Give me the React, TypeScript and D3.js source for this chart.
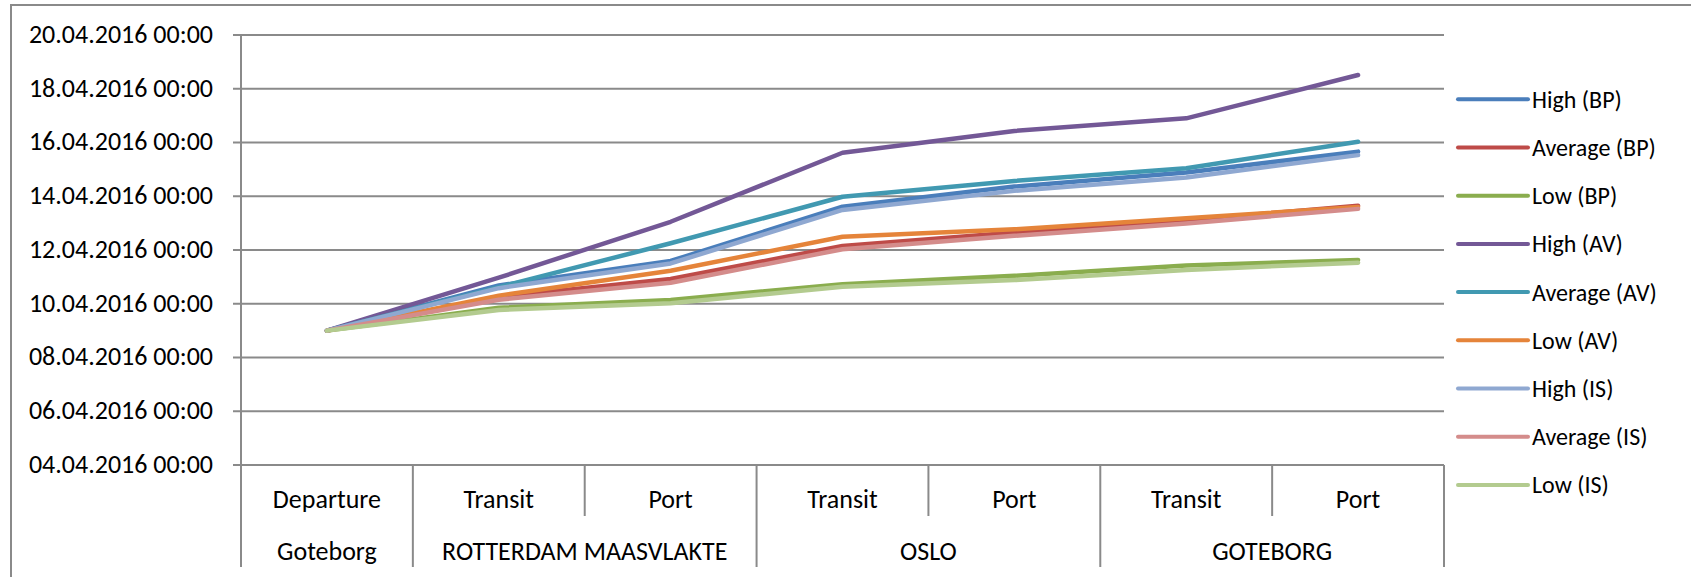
import React from "react";
import * as d3 from "d3";

// Voyage stages along the category axis (two levels)
const stages = ["Departure", "Transit", "Port", "Transit", "Port", "Transit", "Port"];
const portNames = ["Goteborg", "ROTTERDAM MAASVLAKTE", "OSLO", "GOTEBORG"];
const portSpans = [1, 2, 2, 2];

// Y-axis ticks: day of April 2016
const tickDays = [4, 6, 8, 10, 12, 14, 16, 18, 20];

// Arrival times, as fractional day of April 2016
const highBP = [9.0, 10.68, 11.59, 13.61, 14.36, 14.88, 15.66];
const averageBP = [9.0, 10.25, 10.92, 12.15, 12.65, 13.1, 13.65];
const lowBP = [9.0, 9.85, 10.14, 10.73, 11.04, 11.42, 11.63];
const highAV = [9.0, 10.97, 13.05, 15.62, 16.43, 16.9, 18.51];
const averageAV = [9.0, 10.62, 12.25, 13.98, 14.57, 15.04, 16.03];
const lowAV = [9.0, 10.3, 11.23, 12.49, 12.77, 13.18, 13.6];
const highIS = [9.0, 10.58, 11.5, 13.49, 14.2, 14.7, 15.53];
const averageIS = [9.0, 10.15, 10.78, 12.03, 12.53, 12.99, 13.53];
const lowIS = [9.0, 9.77, 10.02, 10.63, 10.88, 11.26, 11.53];

const seriesNames = [
  "High (BP)", "Average (BP)", "Low (BP)",
  "High (AV)", "Average (AV)", "Low (AV)",
  "High (IS)", "Average (IS)", "Low (IS)",
];
const seriesValues = [highBP, averageBP, lowBP, highAV, averageAV, lowAV, highIS, averageIS, lowIS];
const seriesColors = [
  "#4a7ebb", "#be4b48", "#8aad4e",
  "#735896", "#4199b1", "#e5843a",
  "#8fa8d1", "#d48c8b", "#b3cb8f",
];

const W = 1691;
const H = 577;
const plotLeft = 241;
const plotRight = 1444;
const plotTop = 35;
const plotBottom = 465;
const stageRowBottom = 516;
const axisBottom = 567;
const gridColor = "#8a8a8a";
const font = "Carlito, Calibri, 'Liberation Sans', Arial, sans-serif";
const fontSize = 26;
const legendFontSize = 24;

const aprilDay = (d: number) => new Date(new Date(2016, 3, 1).getTime() + (d - 1) * 864e5);

export default function App() {
  const y = d3
    .scaleTime()
    .domain([aprilDay(tickDays[0]), aprilDay(tickDays[tickDays.length - 1])])
    .range([plotBottom, plotTop]);
  const x = d3
    .scaleBand<number>()
    .domain(d3.range(stages.length))
    .range([plotLeft, plotRight])
    .padding(0);
  const cx = (i: number) => (x(i) as number) + x.bandwidth() / 2;
  const fmt = d3.timeFormat("%d.%m.%Y %H:%M");

  const line = d3
    .line<number>()
    .x((_, i) => cx(i))
    .y((d) => y(aprilDay(d)));

  // Group boundaries on the category axis
  const groupEdges: number[] = [0];
  portSpans.forEach((s) => groupEdges.push(groupEdges[groupEdges.length - 1] + s));

  const edgeX = (i: number) => (i >= stages.length ? plotRight : (x(i) as number));

  const legendX = 1458;
  const legendLineLen = 70;
  const legendTop = 99.3;
  const legendStep = 48.2;

  return (
    <svg
      width={W}
      height={H}
      style={{ position: "absolute", left: 0, top: 0, background: "#fff" }}
      fontFamily={font}
      fontSize={fontSize}
    >
      {/* chart frame */}
      <path d={`M11,${H} V5 H${W}`} fill="none" stroke={gridColor} strokeWidth={2} />

      {/* horizontal gridlines with tick labels */}
      {tickDays.map((d) => {
        const yy = y(aprilDay(d));
        return (
          <g key={d}>
            <line x1={plotLeft - 8} x2={plotRight} y1={yy} y2={yy} stroke={gridColor} strokeWidth={2} />
            <text x={213} y={yy + 7.8} textAnchor="end" fill="#000">
              {fmt(aprilDay(d))}
            </text>
          </g>
        );
      })}

      {/* value axis line */}
      <line x1={plotLeft} x2={plotLeft} y1={plotTop} y2={plotBottom} stroke={gridColor} strokeWidth={2} />

      {/* category axis: stage dividers and labels */}
      {stages.map((s, i) => {
        const isGroupEdge = groupEdges.includes(i);
        return (
          <g key={`st${i}`}>
            <line
              x1={edgeX(i)}
              x2={edgeX(i)}
              y1={plotBottom}
              y2={isGroupEdge ? axisBottom : stageRowBottom}
              stroke={gridColor}
              strokeWidth={2}
            />
            <text x={cx(i)} y={508} textAnchor="middle" fill="#000">
              {s}
            </text>
          </g>
        );
      })}
      <line x1={plotRight} x2={plotRight} y1={plotBottom} y2={axisBottom} stroke={gridColor} strokeWidth={2} />

      {/* port names */}
      {portNames.map((p, g) => {
        const a = edgeX(groupEdges[g]);
        const b = edgeX(groupEdges[g + 1]);
        return (
          <text key={p} x={(a + b) / 2} y={559.5} textAnchor="middle" fill="#000">
            {p}
          </text>
        );
      })}

      {/* series lines */}
      {seriesValues.map((vals, k) => (
        <path
          key={seriesNames[k]}
          d={line(vals) as string}
          fill="none"
          stroke={seriesColors[k]}
          strokeWidth={4.5}
          strokeLinejoin="round"
          strokeLinecap="round"
        />
      ))}

      {/* legend */}
      {seriesNames.map((n, k) => {
        const ly = legendTop + k * legendStep;
        return (
          <g key={`lg${k}`}>
            <line
              x1={legendX}
              x2={legendX + legendLineLen}
              y1={ly}
              y2={ly}
              stroke={seriesColors[k]}
              strokeWidth={4}
              strokeLinecap="round"
            />
            <text x={legendX + legendLineLen + 4} y={ly + 8.5} fill="#000" fontSize={legendFontSize}>
              {n}
            </text>
          </g>
        );
      })}
    </svg>
  );
}
